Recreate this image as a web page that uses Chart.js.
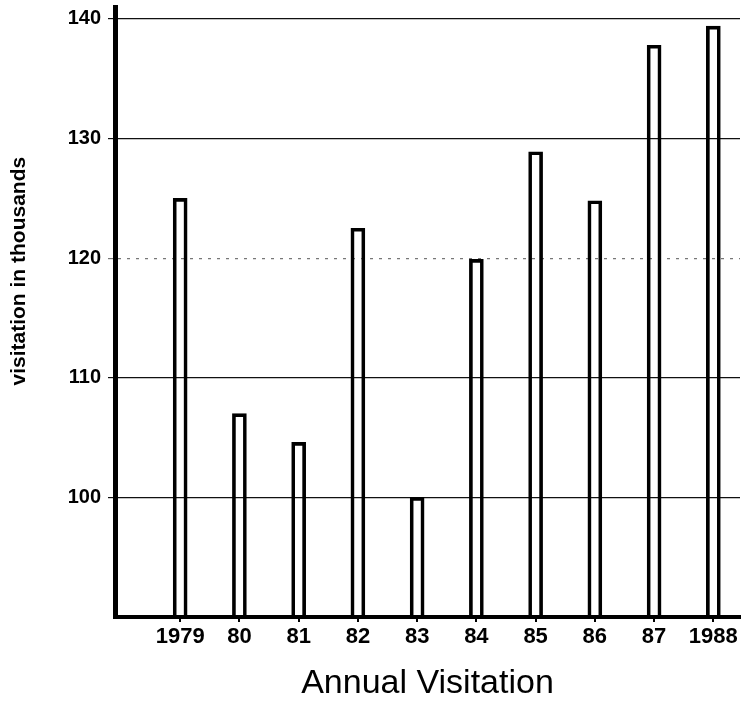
<!DOCTYPE html>
<html>
<head>
<meta charset="utf-8">
<script src="https://cdn.jsdelivr.net/npm/chart.js@4/dist/chart.umd.min.js"></script>
<style>
  html, body { margin: 0; background: #fff; }
  #wrap { width: 744px; height: 706px; position: relative; }
</style>
</head>
<body>
<div id="wrap"><canvas id="c"></canvas></div>
<script>
// Annual visitation, 1979-1988 (thousands).
const years = [1979, 1980, 1981, 1982, 1983, 1984, 1985, 1986, 1987, 1988];
const yearLabels = ['1979', '80', '81', '82', '83', '84', '85', '86', '87', '1988'];
const visits = [125, 107, 104.6, 122.5, 100, 119.9, 128.9, 124.8, 137.8, 139.4];
const yTicks = [100, 110, 120, 130, 140];

(function () {
  const font = 'Liberation Sans, Arial, Helvetica, sans-serif';

  new Chart(document.getElementById('c').getContext('2d'), {
    type: 'bar',
    data: {
      datasets: [{
        data: visits.map((v, i) => ({ x: years[i], y: v })),
        base: 90,
        backgroundColor: 'rgba(0,0,0,0)',
        borderColor: '#000',
        borderWidth: 3,
        barThickness: 14,
        borderSkipped: 'bottom',
      }],
    },
    options: {
      responsive: true, maintainAspectRatio: false, animation: false,
      layout: { padding: { top: 7, right: 4, left: 0, bottom: 0 } },
      plugins: { legend: { display: false }, tooltip: { enabled: false } },
      scales: {
        x: {
          type: 'linear', min: 1977.9, max: 1988.45, offset: false,
          afterBuildTicks: (s) => { s.ticks = years.map((v) => ({ value: v })); },
          afterFit: (s) => { s.height = 89; s.paddingLeft = 0; s.paddingRight = 0; },
          ticks: {
            autoSkip: false, maxRotation: 0, color: '#000', padding: 2,
            font: { family: font, size: 22, weight: 'bold' },
            callback: (v) => yearLabels[years.indexOf(v)],
          },
          grid: { offset: false, drawOnChartArea: false, drawTicks: true, tickLength: 5, color: '#000', lineWidth: 2 },
          border: { display: true, color: '#000', width: 4 },
          title: {
            display: true, text: 'Annual Visitation', color: '#000',
            font: { family: font, size: 34, weight: 'normal' },
            padding: { top: 0, bottom: 2 },
          },
        },
        y: {
          min: 90, max: 141,
          afterBuildTicks: (s) => { s.ticks = yTicks.map((v) => ({ value: v })); },
          afterFit: (s) => { s.width = 115; s.paddingTop = 0; s.paddingBottom = 0; },
          ticks: {
            color: '#000', padding: 7,
            font: { family: font, size: 20, weight: 'bold' },
          },
          grid: {
            drawTicks: true, tickLength: 7, lineWidth: 1.2,
            color: (ctx) => (ctx.tick && ctx.tick.value === 120 ? '#777' : '#111'),
          },
          border: {
            display: true, color: '#000', width: 5,
            dash: (ctx) => (ctx.tick && ctx.tick.value === 120 ? [3, 6] : []),
          },
          title: {
            display: true, text: '              visitation in thousands', color: '#000',
            font: { family: font, size: 21, weight: 'bold' },
            padding: { top: 7, bottom: 0 },
          },
        },
      },
    },
  });
})();
</script>
</body>
</html>
